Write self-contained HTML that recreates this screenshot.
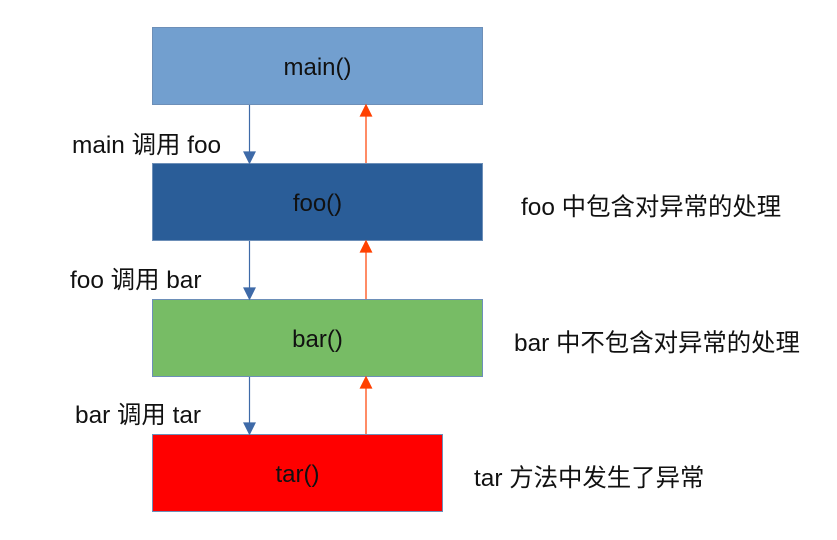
<!DOCTYPE html>
<html><head><meta charset="utf-8"><style>
body{margin:0;width:837px;height:540px;background:#fff;position:relative;overflow:hidden;font-family:"Liberation Sans","Noto Sans CJK SC",sans-serif;}
.b{position:absolute;box-sizing:border-box;border:1px solid #6d8fb8;display:flex;align-items:center;justify-content:center;font-size:24px;color:#111;padding-top:4px;}
.t{position:absolute;font-size:24.4px;color:#111;white-space:nowrap;line-height:28px;}
svg{position:absolute;left:0;top:0}
</style></head><body>
<div class="b" style="left:152px;top:27px;width:331px;height:78px;background:#729fcf;">main()</div>
<div class="b" style="left:152px;top:163px;width:331px;height:78px;background:#2a5d98;">foo()</div>
<div class="b" style="left:152px;top:299px;width:331px;height:78px;background:#77bc65;">bar()</div>
<div class="b" style="left:152px;top:434px;width:291px;height:78px;background:#ff0000;">tar()</div>
<svg width="837" height="540">
<g stroke="#3e6aa8" stroke-width="1.2" fill="#3e6aa8">
<line x1="249.5" y1="105" x2="249.5" y2="153"/><polygon points="244,152 255,152 249.5,163"/>
<line x1="249.5" y1="241" x2="249.5" y2="289"/><polygon points="244,288 255,288 249.5,299"/>
<line x1="249.5" y1="377" x2="249.5" y2="424"/><polygon points="244,423 255,423 249.5,434"/>
</g>
<g stroke="#ff4000" stroke-width="1.2" fill="#ff4000">
<line x1="366" y1="163" x2="366" y2="115"/><polygon points="360.5,116 371.5,116 366,105"/>
<line x1="366" y1="299" x2="366" y2="251"/><polygon points="360.5,252 371.5,252 366,241"/>
<line x1="366" y1="434" x2="366" y2="387"/><polygon points="360.5,388 371.5,388 366,377"/>
</g>
</svg>
<div class="t" style="left:72px;top:132px;">main 调用 foo</div>
<div class="t" style="left:70px;top:267px;">foo 调用 bar</div>
<div class="t" style="left:75px;top:402px;">bar 调用 tar</div>
<div class="t" style="left:521px;top:194px;">foo 中包含对异常的处理</div>
<div class="t" style="left:514px;top:330px;">bar 中不包含对异常的处理</div>
<div class="t" style="left:474px;top:465px;">tar 方法中发生了异常</div>
</body></html>
